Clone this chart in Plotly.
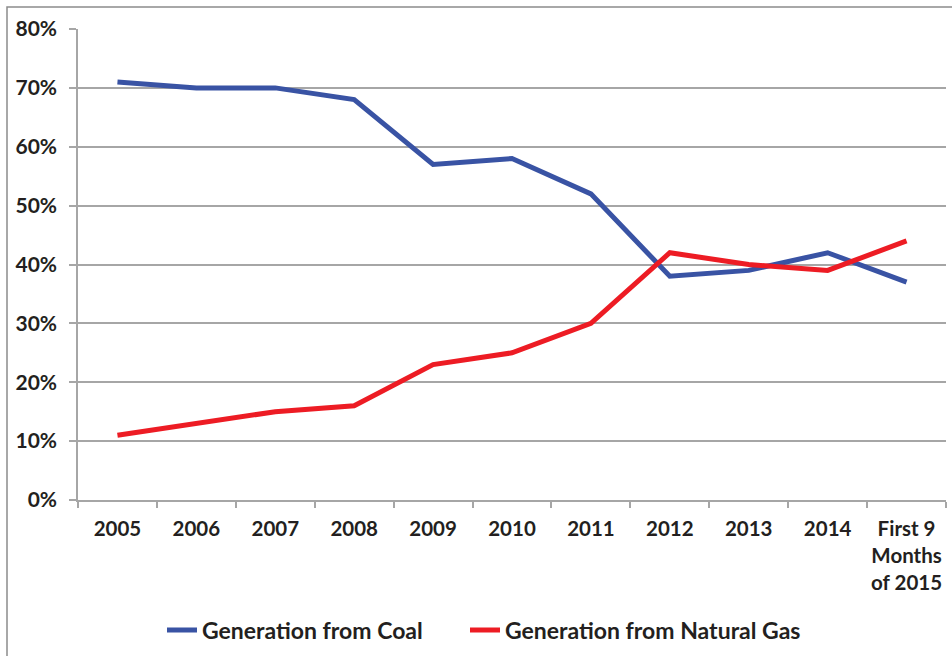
import plotly.graph_objects as go

# Share of electricity generation by fuel
periods = ["2005", "2006", "2007", "2008", "2009", "2010", "2011", "2012",
           "2013", "2014", "First 9<br>Months<br>of 2015"]
coal_share = [71, 70, 70, 68, 57, 58, 52, 38, 39, 42, 37]
gas_share = [11, 13, 15, 16, 23, 25, 30, 42, 40, 39, 44]
y_ticks = [0, 10, 20, 30, 40, 50, 60, 70, 80]

FONT = "Lato"
TEXT = "#231F20"
GRID = "#A6A6A6"

fig = go.Figure()
fig.add_trace(go.Scatter(x=periods, y=coal_share, mode="lines",
                         name="Generation from Coal", legend="legend",
                         line=dict(color="#3953A4", width=5)))
fig.add_trace(go.Scatter(x=periods, y=gas_share, mode="lines",
                         name="Generation from Natural Gas", legend="legend2",
                         line=dict(color="#ED1C24", width=5)))

W, H = 952, 656
L, R, T, B = 78, 6, 29, 156
pw, ph = W - L - R, H - T - B

# outer chart border (runs past right/bottom edge)
fig.add_shape(type="rect", xref="paper", yref="paper",
              x0=(7 - L) / pw, x1=(W + 20 - L) / pw,
              y0=-(H + 20 - (T + ph)) / ph, y1=(T + ph - 7) / ph,
              line=dict(color="#8C8C8C", width=1.5), fillcolor="rgba(0,0,0,0)",
              layer="below")

legend_style = dict(orientation="h", xanchor="left",
                    y=-(630 - (T + ph)) / ph, yanchor="middle",
                    font=dict(family=FONT, size=23, color=TEXT, weight="bold"),
                    itemwidth=30, bgcolor="rgba(0,0,0,0)")

fig.update_layout(
    width=W, height=H,
    margin=dict(l=L, r=R, t=T, b=B, autoexpand=False),
    paper_bgcolor="white", plot_bgcolor="white",
    font=dict(family=FONT, color=TEXT, size=20),
    showlegend=True,
    legend=dict(x=(162 - L) / pw, **legend_style),
    legend2=dict(x=(465 - L) / pw, **legend_style),
    xaxis=dict(type="category", showgrid=False, showline=True, linecolor=GRID,
               linewidth=1.5, ticks="outside", tickson="boundaries", ticklen=6,
               tickcolor=GRID, tickwidth=1.5, ticklabelstandoff=10,
               tickangle=0, automargin=False,
               tickfont=dict(family=FONT, size=20.5, color=TEXT, weight="bold"),
               range=[-0.5, 10.5]),
    yaxis=dict(range=[0, 80], tickvals=y_ticks,
               ticktext=[f"{v}%" for v in y_ticks],
               showgrid=True, gridcolor=GRID, gridwidth=1.5,
               showline=True, linecolor=GRID, linewidth=1.5,
               ticks="outside", ticklen=7, tickcolor=GRID, tickwidth=1.5,
               ticklabelstandoff=8, zeroline=False, automargin=False,
               tickfont=dict(family=FONT, size=21, color=TEXT, weight="bold")),
)

fig.write_html("out.html")
